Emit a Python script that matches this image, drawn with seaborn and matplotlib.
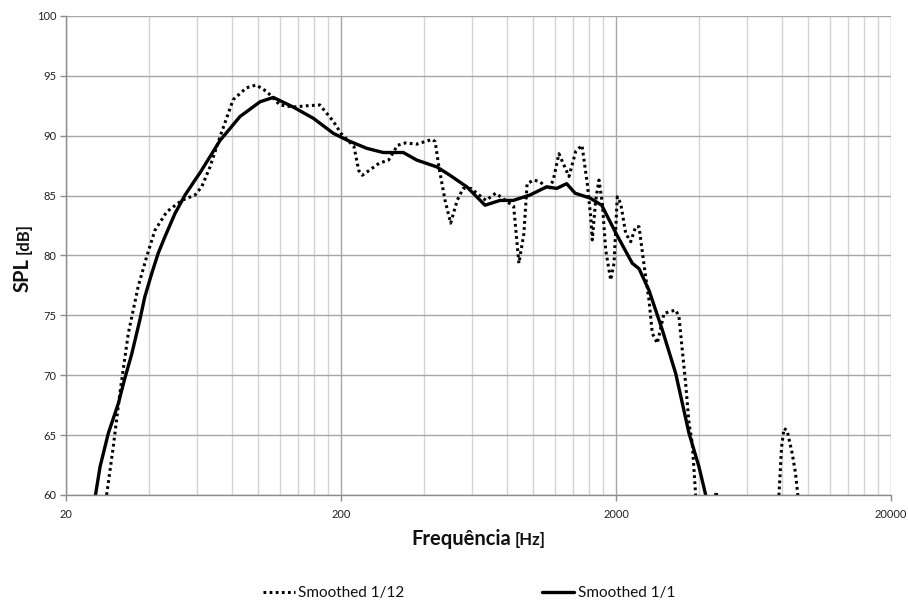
import numpy as np
import pandas as pd
import matplotlib
matplotlib.use("Agg")
import matplotlib.pyplot as plt
from matplotlib.ticker import FixedLocator, NullFormatter, FixedFormatter
import seaborn as sns

# ---------------- data ----------------
freq_12 = [28.1, 29.7, 31.4, 33.7, 36.6, 39.3, 42.1, 46.5, 52.7, 58.9, 62.3, 66.8, 72.6, 81,
           90.5, 98.3, 107.3, 119.9, 134, 150, 167.5, 187.6, 200, 223, 232, 239, 253, 275,
           298, 321, 343, 377, 430, 440, 454, 478, 501, 529, 556, 594, 636, 673, 730, 793,
           849, 887, 925, 950, 1004, 1060, 1135, 1183, 1240, 1349, 1428, 1504, 1573, 1618,
           1640, 1687, 1734, 1783, 1835, 1913, 1967, 2022, 2080, 2169, 2262, 2358, 2425,
           2564, 2636, 2710, 2826, 2990, 3296, 3388, 3484, 3584, 3686, 3788, 3896, 4200,
           4580, 4640, 4700, 7500, 7826, 8000, 8163, 8380, 8740, 8995, 9165, 9500]
spl_12 = [60, 64.0, 68.5, 73.5, 77.4, 79.9, 82.1, 83.65, 84.6, 85.05, 85.74, 87.4, 89.9, 93.0,
          94.0, 94.24, 93.7, 92.57, 92.4, 92.5, 92.57, 91.2, 90.2, 89.09, 87.1, 86.7, 87.1, 87.7,
          87.97, 89.2, 89.4, 89.3, 89.7, 89.5, 87.4, 84.6, 82.7, 84.6, 85.6, 85.6, 85.05, 84.6, 85.2, 84.6,
          84.1, 79.35, 81.85, 86.0, 86.3, 86.16, 85.47, 86.3, 88.5, 86.6, 88.7, 89.2, 86.0, 83.24,
          81.3, 84.6, 86.3, 84.4, 80.46, 77.95, 79.35, 84.9, 84.36, 81.85, 81.15, 82.4, 82.4,
          78.2, 76.3, 73.5, 72.67, 75.17, 75.45, 74.9, 72.1, 69.3, 65.98, 64.3, 60.0, 55,
          59.8, 60.3, 55, 55, 60.0, 64.0, 65.55, 65.4, 63.5, 61.8, 60.0, 55]

freq_1 = [24, 25.6, 26.6, 28.5, 31.0, 32.6, 34.7, 37.1, 38.7, 41.0, 43.3, 45.8, 49.8, 54.2,
          58.9, 61.4, 72.6, 85.8, 101.6, 113.5,
          134, 158.6, 187.6, 212, 248, 285, 337, 377, 446, 498, 573, 623, 668, 757, 846, 973,
          1120, 1217, 1323, 1420, 1608, 1774, 2000, 2292, 2425, 2636, 2946, 3296, 3686, 4006,
          4238, 4500]
spl_1 = [57, 60, 62.36, 65.15, 67.65, 69.6, 71.8, 74.6, 76.56, 78.5, 80.2, 81.57, 83.5, 85.05,
         86.3, 86.9, 89.6, 91.6, 92.84, 93.2,
         92.4, 91.46, 90.2, 89.6, 88.95, 88.6, 88.6, 87.97, 87.4, 86.7, 85.74, 84.9, 84.2, 84.6, 84.6, 85.05,
         85.74, 85.6, 86.0, 85.2, 84.8, 84.2, 81.85, 79.35, 78.9, 77.1, 73.8, 70.16, 65.15, 62.36,
         60.0, 57]

series_names = ["Smoothed 1/12", "Smoothed 1/1"]
x_major = [20, 200, 2000, 20000]
x_major_labels = ["20", "200", "2000", "20000"]
y_ticks = [60, 65, 70, 75, 80, 85, 90, 95, 100]

# ---------------- figure ----------------
sns.set_theme(style="white")
plt.rcParams["font.family"] = ["Lato", "DejaVu Sans"]

W, H = 908, 603
fig = plt.figure(figsize=(W / 100, H / 100), dpi=100)
ax = fig.add_axes([66 / W, 1 - 495 / H, (891 - 66) / W, (495 - 16) / H])

df12 = pd.DataFrame({"f": freq_12, "spl": spl_12})
df1 = pd.DataFrame({"f": freq_1, "spl": spl_1})

sns.lineplot(data=df12, x="f", y="spl", ax=ax, color="black", linewidth=2.2,
             linestyle=(0, (0.9, 1.1)), dash_capstyle="butt", sort=False,
             label=series_names[0], estimator=None)
sns.lineplot(data=df1, x="f", y="spl", ax=ax, color="black", linewidth=2.4,
             sort=False, label=series_names[1], estimator=None)

ax.set_xscale("log")
ax.set_xlim(20, 20000)
ax.set_ylim(60, 100)

minor = []
for dec in [20, 200, 2000]:
    for k in range(2, 10):
        minor.append(dec * k)
ax.xaxis.set_major_locator(FixedLocator(x_major))
ax.xaxis.set_major_formatter(FixedFormatter(x_major_labels))
ax.xaxis.set_minor_locator(FixedLocator(minor))
ax.xaxis.set_minor_formatter(NullFormatter())
ax.set_yticks(y_ticks)
ax.set_yticklabels([str(v) for v in y_ticks])

ax.grid(True, which="major", axis="both", color="#a6a6a6", linewidth=1.0)
ax.grid(True, which="minor", axis="x", color="#d4d4d4", linewidth=1.0)
ax.set_axisbelow(True)

for s in ["top", "right"]:
    ax.spines[s].set_visible(False)
for s in ["left", "bottom"]:
    ax.spines[s].set_color("#8c8c8c")
    ax.spines[s].set_linewidth(1.0)

ax.tick_params(axis="both", which="major", length=4, width=1, color="#8c8c8c",
               labelsize=8, labelcolor="#222222", pad=3, direction="out")
ax.tick_params(axis="y", which="major", left=True)
ax.tick_params(axis="x", which="major", bottom=True, pad=6)
ax.tick_params(axis="x", which="minor", length=0)

ax.set_xlabel("")
ax.set_ylabel("")

handles, labels = ax.get_legend_handles_labels()
ax.get_legend().remove()

# axis titles (bold main part + smaller unit)
t1 = fig.text(411 / W, 1 - 545 / H, "Frequência", fontsize=14.5, fontweight="bold",
              ha="left", va="baseline", color="#111111")
t2 = fig.text(0, 1 - 545 / H, "[Hz]", fontsize=12, fontweight="bold",
              ha="left", va="baseline", color="#111111")
s1 = fig.text(29 / W, 1 - 292 / H, "SPL", fontsize=14.5, fontweight="bold", rotation=90,
              rotation_mode="anchor", ha="left", va="baseline", color="#111111")
s2 = fig.text(29 / W, 0, "[dB]", fontsize=12, fontweight="bold", rotation=90,
              rotation_mode="anchor", ha="left", va="baseline", color="#111111")

fig.canvas.draw()
r = fig.canvas.get_renderer()
bb = t1.get_window_extent(r)
t2.set_x((bb.x1 + 4) / W)
bb2 = s1.get_window_extent(r)
s2.set_y((bb2.y1 + 4) / H)

fig.legend(handles, labels, loc="center", bbox_to_anchor=(469 / W, 1 - 593 / H),
           ncol=2, frameon=False, fontsize=11, handlelength=2.1, handletextpad=0.25,
           columnspacing=9.0, labelcolor="#111111")

fig.savefig("out.png", dpi=100, facecolor="white")
